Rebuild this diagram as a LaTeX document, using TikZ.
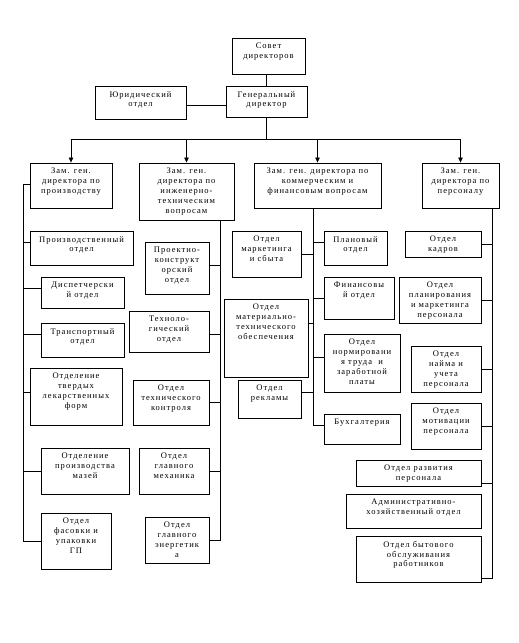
\documentclass[tikz,border=0pt]{standalone}
\usepackage{fontspec}
\setmainfont{Liberation Serif}[LetterSpace=12]
\usetikzlibrary{arrows.meta}
\tikzset{
  boxshape/.style={draw=black, line width=0.9pt, rectangle, inner sep=0pt, fill=white},
  boxtext/.style={align=center, inner sep=0pt, font=\fontsize{8.5}{9.8}\selectfont},
  conn/.style={draw=black, line width=0.6pt},
  arr/.style={conn, -{Triangle[width=4.5pt,length=5pt]}}
}
\newcommand\bx[6]{%
  \node[boxshape, minimum width={(#4-#2)*1pt}, minimum height={(#5-#3)*1pt}] (#1) at ({(#2+#4)/2},{(#3+#5)/2}) {};
  \node[boxtext, anchor=north] (#1t) at ([yshift=-5.5pt]#1.north) {#6};
}
\newcommand\lconn[3]{\draw[conn] ([yshift=#3pt]#1.west) -- ([yshift=#3pt]#1.west -| #2);}
\newcommand\rconn[3]{\draw[conn] ([yshift=#3pt]#1.east) -- ([yshift=#3pt]#1.east -| #2);}
\begin{document}
\begin{tikzpicture}[x=1pt,y=-1pt]
\useasboundingbox[fill=white] (0,0) rectangle (519,643);
% bus coordinates
\coordinate (hbus) at (0,139);
\coordinate (b1) at (23,0);
\coordinate (b2) at (220,0);
\coordinate (b3) at (313,0);
\coordinate (b4) at (492,0);
% top
\bx{sovet}{232}{38}{305}{74}{Совет\\директоров}
\bx{gen}{226}{86}{307}{117}{Генеральный\\директор}
\bx{jur}{95}{86}{186}{119}{Юридический\\отдел}
\bx{z1}{30}{163}{112}{208}{Зам. ген.\\директора по\\производству}
\bx{z2}{139}{163}{234}{220}{Зам. ген.\\директора по\\инженерно-\\техническим\\вопросам}
\bx{z3}{254}{163}{381}{208}{Зам. ген. директора по\\коммерческим и\\финансовым вопросам}
\bx{z4}{422}{163}{499}{208}{Зам. ген.\\директора по\\персоналу}
% column 1
\bx{prod}{30}{231}{133}{265}{Производственный\\отдел}
\bx{disp}{41}{277}{124}{308}{Диспетчерски\\й отдел}
\bx{trans}{41}{323}{124}{357}{Транспортный\\отдел}
\bx{tverd}{30}{368}{122}{425}{Отделение\\твердых\\лекарственных\\форм}
\bx{maz}{41}{448}{129}{494}{Отделение\\производства\\мазей}
\bx{fas}{41}{513}{111}{569}{Отдел\\фасовки и\\упаковки\\ГП}
% column 2
\bx{proekt}{145}{242}{209}{294}{Проектно-\\конструкт\\орский\\отдел}
\bx{tekhn}{129}{311}{209}{352}{Техноло-\\гический\\отдел}
\bx{tk}{133}{380}{209}{425}{Отдел\\технического\\контроля}
\bx{mekh}{139}{448}{209}{494}{Отдел\\главного\\механика}
\bx{energ}{145}{517}{209}{563}{Отдел\\главного\\энергетик\\а}
% column 3
\bx{mark}{232}{231}{301}{277}{Отдел\\маркетинга\\и сбыта}
\bx{mto}{224}{299}{308}{377}{Отдел\\материально-\\технического\\обеспечения}
\bx{rekl}{238}{380}{301}{418}{Отдел\\рекламы}
\bx{plan}{324}{231}{387}{265}{Плановый\\отдел}
\bx{fin}{324}{277}{394}{319}{Финансовы\\й отдел}
\bx{norm}{324}{334}{400}{392}{Отдел\\нормировани\\я труда~~и\\заработной\\платы}
\bx{buh}{324}{414}{400}{444}{Бухгалтерия}
% column 4
\bx{kadr}{405}{231}{481}{257}{Отдел\\кадров}
\bx{plpers}{399}{277}{481}{323}{Отдел\\планирования\\и маркетинга\\персонала}
\bx{naim}{411}{346}{481}{392}{Отдел\\найма и\\учета\\персонала}
\bx{motiv}{411}{403}{481}{449}{Отдел\\мотивации\\персонала}
\bx{razv}{356}{460}{481}{486}{Отдел развития\\персонала}
\bx{adm}{346}{494}{481}{528}{Административно-\\хозяйственный отдел}
\bx{byt}{356}{536}{481}{582}{Отдел бытового\\обслуживания\\работников}
% top connectors
\draw[conn] (gen.north |- sovet.south) -- (gen.north);
\draw[conn] ([yshift=-3pt]jur.east) -- ([yshift=-3pt]jur.east -| gen.west);
\draw[conn] (gen.south) -- (gen.south |- hbus);
\draw[conn] (z1.north |- hbus) -- (z4.north |- hbus);
\draw[arr] (z1.north |- hbus) -- (z1.north);
\draw[arr] (z2.north |- hbus) -- (z2.north);
\draw[arr] (z3.north |- hbus) -- (z3.north);
\draw[arr] (z4.north |- hbus) -- (z4.north);
% column 1
\draw[conn] ([yshift=1.5pt]z1.west) -| (fas.west -| b1) -- (fas.west);
\lconn{prod}{b1}{6}
\lconn{disp}{b1}{4.5}
\lconn{trans}{b1}{6}
\lconn{tverd}{b1}{4}
\lconn{maz}{b1}{0}
% column 2
\draw[conn] (z2.south -| b2) |- (energ.east);
\rconn{proekt}{b2}{3}
\rconn{tekhn}{b2}{-2.5}
\rconn{tk}{b2}{0}
\rconn{mekh}{b2}{0}
% column 3
\draw[conn] (z3.south -| b3) |- ([yshift=4pt]buh.west);
\rconn{mark}{b3}{0}
\rconn{mto}{b3}{15}
\rconn{rekl}{b3}{7}
\lconn{plan}{b3}{6}
\lconn{fin}{b3}{0}
\lconn{norm}{b3}{6}
% column 4
\draw[conn] (z4.south -| b4) |- ([yshift=-19pt]byt.east);
\rconn{kadr}{b4}{0}
\rconn{plpers}{b4}{0}
\rconn{naim}{b4}{0}
\rconn{motiv}{b4}{0}
\rconn{razv}{b4}{-10}
\end{tikzpicture}
\end{document}
